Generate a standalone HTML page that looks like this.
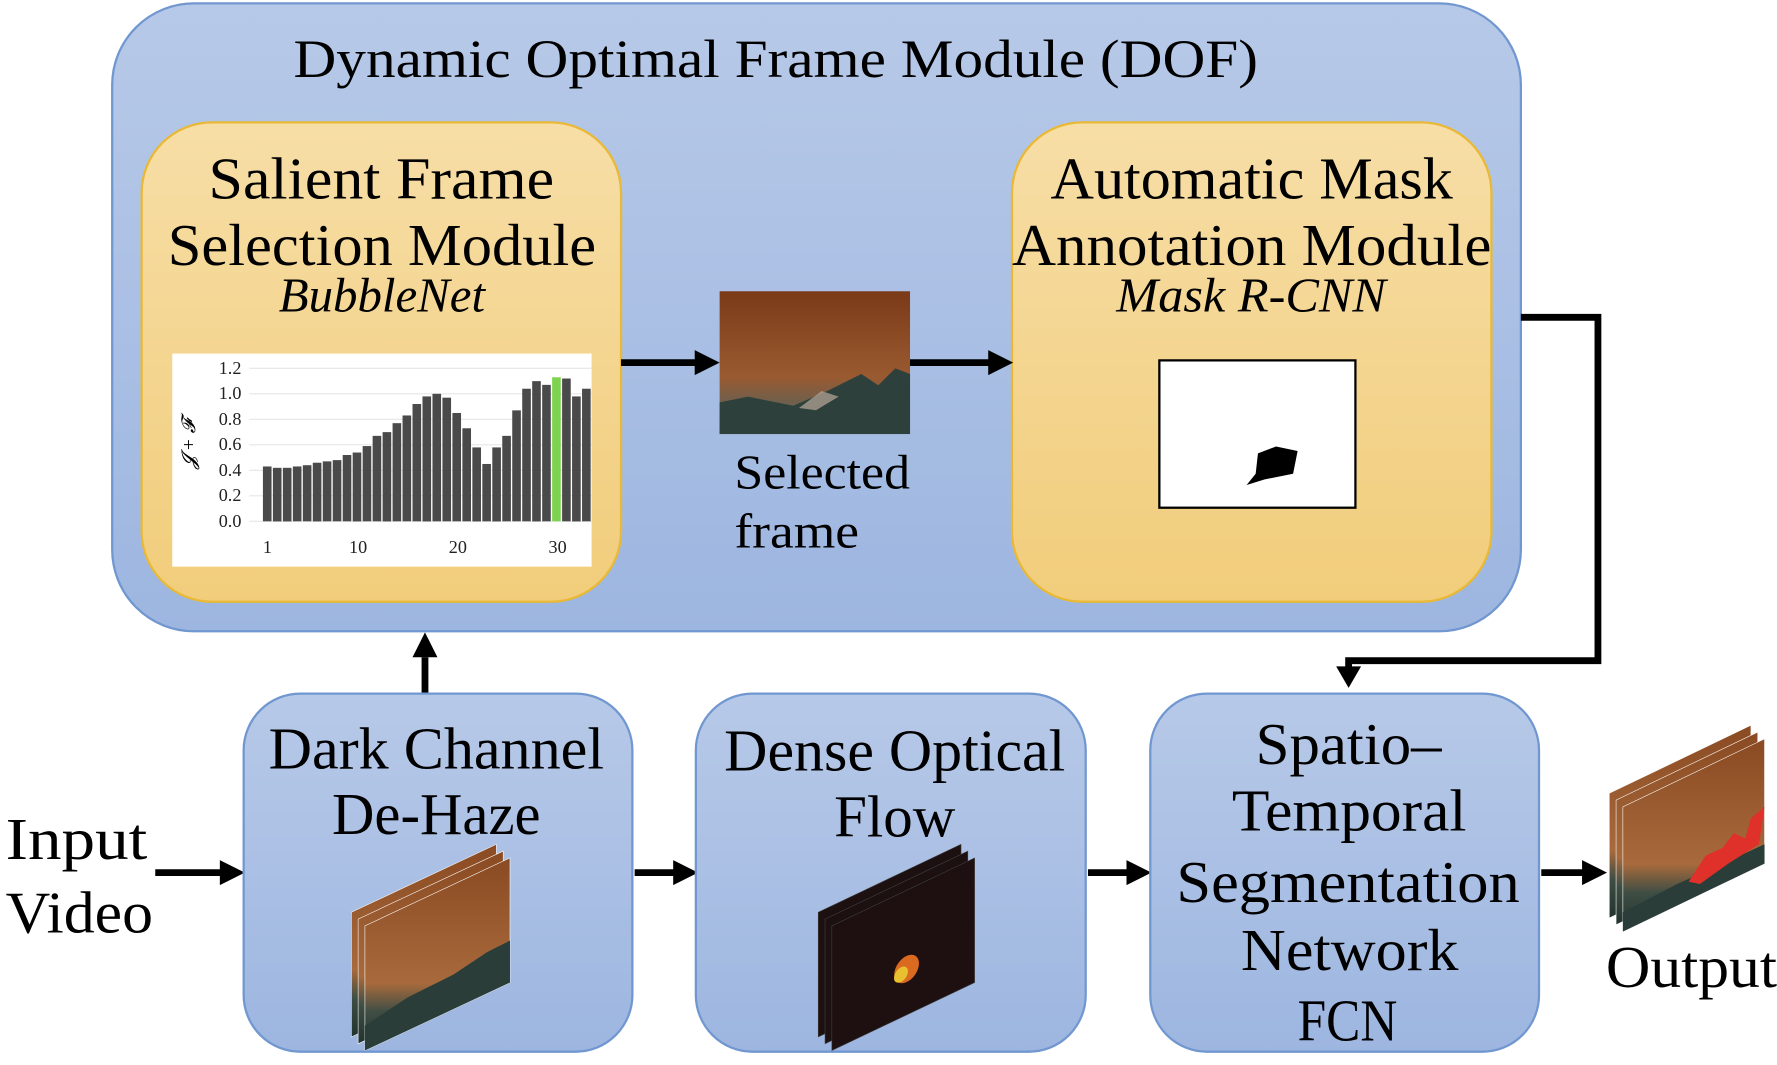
<!DOCTYPE html>
<html><head><meta charset="utf-8"><style>
html,body{margin:0;padding:0;background:#fff;width:1777px;height:1060px;overflow:hidden}
#w{position:absolute;left:0;top:0;width:1568px;height:935px;transform:scale(1.13329);transform-origin:0 0}
text{font-family:"Liberation Serif",serif}
</style></head><body><div id="w">
<svg width="1568" height="935" viewBox="0 0 1568 935">
<defs>
<linearGradient id="bl" x1="0" y1="0" x2="0" y2="1"><stop offset="0" stop-color="#b7c9e8"/><stop offset="1" stop-color="#9db6e0"/></linearGradient>
<linearGradient id="yl" x1="0" y1="0" x2="0" y2="1"><stop offset="0" stop-color="#f7dea6"/><stop offset="1" stop-color="#f1cd7b"/></linearGradient>
<linearGradient id="br" x1="0" y1="0" x2="0" y2="1"><stop offset="0" stop-color="#7a3a18"/><stop offset="0.6" stop-color="#9a5a30"/><stop offset="0.8" stop-color="#6a6050"/><stop offset="1" stop-color="#2c3f3a"/></linearGradient>
<linearGradient id="br2" x1="0" y1="0" x2="0" y2="1"><stop offset="0" stop-color="#8a4a22"/><stop offset="0.65" stop-color="#a86a3c"/><stop offset="0.8" stop-color="#3e4e44"/><stop offset="1" stop-color="#22322e"/></linearGradient>
</defs>
<rect x="99" y="3" width="1243" height="554" rx="72" fill="url(#bl)" stroke="#7197d0" stroke-width="2"/>
<text x="259" y="68" font-size="48" textLength="851" lengthAdjust="spacingAndGlyphs">Dynamic Optimal Frame Module (DOF)</text>
<rect x="125" y="108" width="423" height="423" rx="62" fill="url(#yl)" stroke="#e9b935" stroke-width="2"/>
<text x="184" y="175" font-size="52" textLength="305" lengthAdjust="spacingAndGlyphs">Salient Frame</text>
<text x="148" y="234" font-size="52" textLength="378" lengthAdjust="spacingAndGlyphs">Selection Module</text>
<text x="246" y="275" font-size="43" font-style="italic" textLength="182" lengthAdjust="spacingAndGlyphs">BubbleNet</text>
<rect x="893" y="108" width="423" height="423" rx="62" fill="url(#yl)" stroke="#e9b935" stroke-width="2"/>
<text x="927" y="175" font-size="52" textLength="355" lengthAdjust="spacingAndGlyphs">Automatic Mask</text>
<text x="893" y="234" font-size="52" textLength="423" lengthAdjust="spacingAndGlyphs">Annotation Module</text>
<text x="985" y="275" font-size="43" font-style="italic" textLength="238" lengthAdjust="spacingAndGlyphs">Mask R-CNN</text>
<rect x="1023" y="318" width="173" height="130" fill="#fff" stroke="#000" stroke-width="2"/>
<path d="M1110 400 L1126 394 L1145 398 L1141 418 L1116 423 L1100 428 L1108 418 Z" fill="#000"/>
<rect x="152" y="312" width="370" height="188" fill="#fff"/>
<g stroke="#e6e6e6" stroke-width="1">
<line x1="220" y1="325" x2="522" y2="325"/><line x1="220" y1="347.5" x2="522" y2="347.5"/><line x1="220" y1="370" x2="522" y2="370"/><line x1="220" y1="392.5" x2="522" y2="392.5"/><line x1="220" y1="415" x2="522" y2="415"/><line x1="220" y1="437.5" x2="522" y2="437.5"/><line x1="220" y1="460" x2="522" y2="460"/>
</g>
<g font-size="16" text-anchor="end" fill="#222">
<text x="213" y="330">1.2</text><text x="213" y="352">1.0</text><text x="213" y="375">0.8</text><text x="213" y="397">0.6</text><text x="213" y="420">0.4</text><text x="213" y="442">0.2</text><text x="213" y="465">0.0</text>
</g>
<text transform="translate(172,392) rotate(-90)" font-size="17" font-style="italic" text-anchor="middle">𝓙 + 𝓕</text>
<g font-size="16" text-anchor="middle" fill="#222"><text x="236" y="488">1</text><text x="316" y="488">10</text><text x="404" y="488">20</text><text x="492" y="488">30</text></g>
<g fill="#4a4a4a">
<rect x="232.0" y="411.6" width="7.6" height="48.4"/><rect x="240.8" y="412.8" width="7.6" height="47.3"/><rect x="249.6" y="412.8" width="7.6" height="47.3"/><rect x="258.4" y="411.6" width="7.6" height="48.4"/><rect x="267.2" y="410.5" width="7.6" height="49.5"/><rect x="276.0" y="408.3" width="7.6" height="51.8"/><rect x="284.8" y="407.1" width="7.6" height="52.9"/><rect x="293.6" y="406.0" width="7.6" height="54.0"/><rect x="302.4" y="401.5" width="7.6" height="58.5"/><rect x="311.2" y="399.3" width="7.6" height="60.8"/><rect x="320.0" y="393.6" width="7.6" height="66.4"/><rect x="328.8" y="384.6" width="7.6" height="75.4"/><rect x="337.6" y="381.3" width="7.6" height="78.8"/><rect x="346.4" y="373.4" width="7.6" height="86.6"/><rect x="355.2" y="366.6" width="7.6" height="93.4"/><rect x="364.0" y="356.5" width="7.6" height="103.5"/><rect x="372.8" y="349.8" width="7.6" height="110.3"/><rect x="381.6" y="347.5" width="7.6" height="112.5"/><rect x="390.4" y="350.9" width="7.6" height="109.1"/><rect x="399.2" y="364.4" width="7.6" height="95.6"/><rect x="408.0" y="377.9" width="7.6" height="82.1"/><rect x="416.8" y="394.8" width="7.6" height="65.3"/><rect x="425.6" y="409.4" width="7.6" height="50.6"/><rect x="434.4" y="394.8" width="7.6" height="65.3"/><rect x="443.2" y="384.6" width="7.6" height="75.4"/><rect x="452.0" y="362.1" width="7.6" height="97.9"/><rect x="460.8" y="343.0" width="7.6" height="117.0"/><rect x="469.6" y="336.3" width="7.6" height="123.8"/><rect x="478.4" y="339.6" width="7.6" height="120.4"/><rect x="487.2" y="332.9" width="7.6" height="127.1" fill="#7dd24f"/><rect x="496.0" y="334.0" width="7.6" height="126.0"/><rect x="504.8" y="349.8" width="7.6" height="110.3"/><rect x="513.6" y="343.0" width="7.6" height="117.0"/>
</g>
<rect x="635" y="257" width="168" height="126" fill="url(#br)"/>
<path d="M635 383 L635 355 L660 350 L700 358 L730 345 L760 330 L775 340 L790 325 L803 330 L803 383 Z" fill="#2e403c"/>
<path d="M705 360 L725 345 L740 350 L720 362 Z" fill="#b9a89a" opacity="0.7"/>
<text x="648" y="431" font-size="43" textLength="155" lengthAdjust="spacingAndGlyphs">Selected</text>
<text x="648" y="483" font-size="43" textLength="110" lengthAdjust="spacingAndGlyphs">frame</text>
<g stroke="#000" stroke-width="6" fill="none">
<line x1="548" y1="320" x2="615" y2="320"/>
<line x1="803" y1="320" x2="874" y2="320"/>
<polyline points="1342,280 1410,280 1410,583 1190,583 1190,592"/>
<line x1="375" y1="612" x2="375" y2="580"/>
<line x1="137" y1="770" x2="196" y2="770"/>
<line x1="560" y1="770" x2="596" y2="770"/>
<line x1="960" y1="770" x2="996" y2="770"/>
<line x1="1360" y1="770" x2="1398" y2="770"/>
</g>
<g fill="#000">
<polygon points="613,309 635,320 613,331"/>
<polygon points="872,309 894,320 872,331"/>
<polygon points="1179,588 1201,588 1190,607"/>
<polygon points="364,580 386,580 375,558"/>
<polygon points="194,759 216,770 194,781"/>
<polygon points="594,759 616,770 594,781"/>
<polygon points="994,759 1016,770 994,781"/>
<polygon points="1396,759 1418,770 1396,781"/>
</g>
<rect x="215" y="612" width="343" height="316" rx="50" fill="url(#bl)" stroke="#7197d0" stroke-width="2"/>
<rect x="614" y="612" width="344" height="316" rx="50" fill="url(#bl)" stroke="#7197d0" stroke-width="2"/>
<rect x="1015" y="612" width="343" height="316" rx="50" fill="url(#bl)" stroke="#7197d0" stroke-width="2"/>
<g font-size="52">
<text x="237" y="678" textLength="296" lengthAdjust="spacingAndGlyphs">Dark Channel</text><text x="293" y="736" textLength="184" lengthAdjust="spacingAndGlyphs">De-Haze</text>
<text x="639" y="680" textLength="301" lengthAdjust="spacingAndGlyphs">Dense Optical</text><text x="736" y="738" textLength="107" lengthAdjust="spacingAndGlyphs">Flow</text>
<text x="1108" y="674" textLength="164" lengthAdjust="spacingAndGlyphs">Spatio–</text><text x="1087" y="733" textLength="207" lengthAdjust="spacingAndGlyphs">Temporal</text><text x="1038" y="796" textLength="303" lengthAdjust="spacingAndGlyphs">Segmentation</text><text x="1095" y="856" textLength="192" lengthAdjust="spacingAndGlyphs">Network</text><text x="1145" y="918" textLength="88" lengthAdjust="spacingAndGlyphs">FCN</text>
<text x="5" y="758" textLength="125" lengthAdjust="spacingAndGlyphs">Input</text><text x="5" y="823" textLength="130" lengthAdjust="spacingAndGlyphs">Video</text><text x="1417" y="871" textLength="151" lengthAdjust="spacingAndGlyphs">Output</text>
</g>
<g stroke="#fff" stroke-width="0.5">
<polygon points="310,805 438,745 438,855 310,915" fill="url(#br2)"/>
<polygon points="316,811 444,751 444,861 316,921" fill="url(#br2)"/>
<polygon points="322,817 450,757 450,867 322,927" fill="url(#br2)"/>
</g>
<path d="M322 905 L360 880 L400 860 L430 840 L450 830 L450 867 L322 927 Z" fill="#2a3d38"/>
<g stroke="#444" stroke-width="0.5">
<polygon points="722,805 848,745 848,855 722,915" fill="#1c1010"/>
<polygon points="728,811 854,751 854,861 728,921" fill="#1c1010"/>
<polygon points="734,817 860,757 860,867 734,927" fill="#1e1010"/>
</g>
<ellipse cx="800" cy="855" rx="9" ry="14" transform="rotate(35 800 855)" fill="#d96a20"/>
<ellipse cx="795" cy="860" rx="5" ry="8" transform="rotate(35 795 860)" fill="#e8c030"/>
<g stroke="#fff" stroke-width="0.5">
<polygon points="1420,700 1545,640 1545,750 1420,810" fill="url(#br2)"/>
<polygon points="1426,706 1551,646 1551,756 1426,816" fill="url(#br2)"/>
<polygon points="1432,712 1557,652 1557,762 1432,822" fill="url(#br2)"/>
</g>
<path d="M1432 805 L1480 780 L1520 762 L1557 745 L1557 762 L1432 822 Z" fill="#2a3d38"/>
<path d="M1490 778 L1505 755 L1520 748 L1530 735 L1540 740 L1545 722 L1557 712 L1552 745 L1525 762 L1500 780 Z" fill="#e0302a"/>
</svg>
</div></body></html>
